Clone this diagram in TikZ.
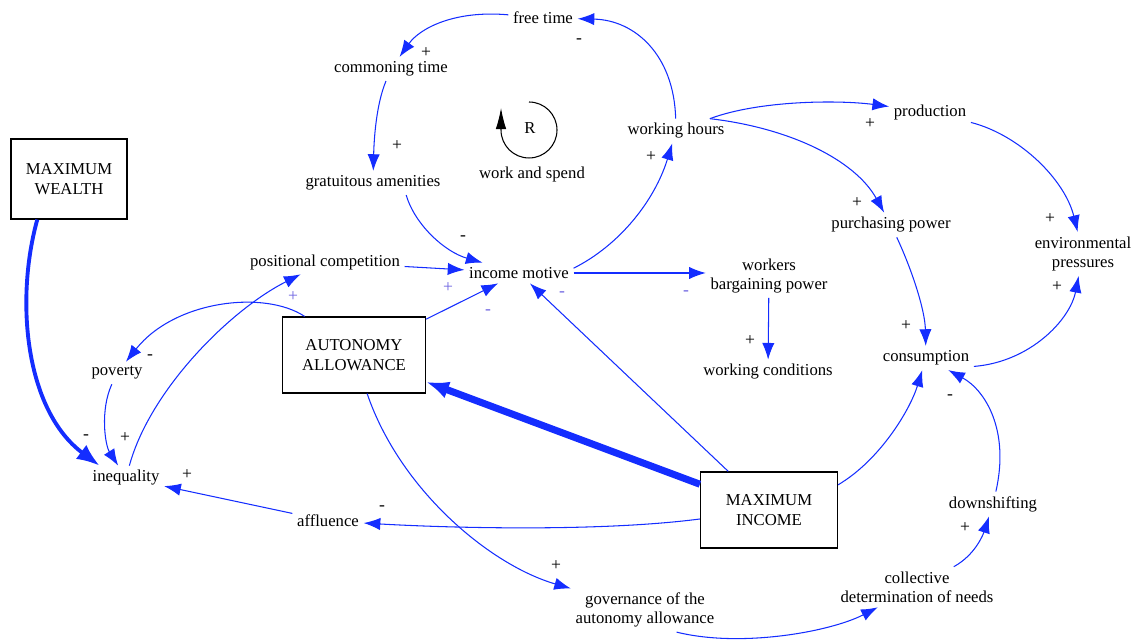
\documentclass[tikz,border=0pt]{standalone}
\usepackage{fontspec}
\setmainfont{Liberation Serif}
\usetikzlibrary{arrows.meta}
\definecolor{linkblue}{RGB}{20,45,255}
\definecolor{signpurple}{RGB}{110,100,225}
\tikzset{
  var/.style={font=\fontsize{9.5}{11}\selectfont, inner sep=2.5pt, align=center},
  lever/.style={var, draw, line width=0.7pt},
  link/.style={linkblue, line width=0.6pt, -{Latex[length=9.5pt,width=7pt]}},
  biglink/.style={linkblue, -{Latex[length=13pt,width=10pt]}},
  sgn/.style={font=\fontsize{10}{11}\selectfont, inner sep=0pt},
  sgnp/.style={sgn, signpurple},
}
\begin{document}
\begin{tikzpicture}[x=0.02cm, y=-0.02cm]
\useasboundingbox (0,0) rectangle (1137,641);

\node[var] (ft) at (543,18) {free time};
\node[var] (ct) at (391,69) {commoning time};
\node[var] (ga) at (373,183) {gratuitous amenities};
\node[var] (wh) at (676,131) {working hours};
\node[var] (prod) at (930,112) {production};
\node[var] (pp) at (891,225) {purchasing power};
\node[var] (env) at (1083,254) {environmental\\pressures};
\node[var] (pc) at (325,262) {positional competition};
\node[var] (im) at (519,273) {income motive};
\node[var] (wbp) at (769,276) {workers\\bargaining power};
\node[var] (pov) at (117,373) {poverty};
\node[var] (wc) at (768,372) {working conditions};
\node[var] (cons) at (926,358) {consumption};
\node[var] (ineq) at (126,478) {inequality};
\node[var] (aff) at (328,521) {affluence};
\node[var] (down) at (993,504) {downshifting};
\node[var] (cdn) at (917,587) {collective\\determination of needs};
\node[var] (gov) at (645,610) {governance of the\\autonomy allowance};
\node[lever, minimum width=2.32cm, minimum height=1.6cm] (mw) at (69,179) {MAXIMUM\\WEALTH};
\node[lever, minimum width=2.86cm, minimum height=1.52cm] (aa) at (354,355) {AUTONOMY\\ALLOWANCE};
\node[lever, minimum width=2.74cm, minimum height=1.52cm] (mi) at (769,510) {MAXIMUM\\INCOME};

\draw[line width=0.6pt, -{Latex[length=12pt,width=6pt]}] (529,102) arc[start angle=90, end angle=-180, radius=0.56cm] -- ++(0,-22);
\node[var] (r) at (530,128) {R};
\node[var] (ws) at (532,174) {work and spend};

\draw[link] (wh) .. controls (674,55) and (635,20) .. (ft);
\draw[link] (ft) .. controls (455,10) and (420,28) .. (ct);
\draw[link] (ct) .. controls (376,105) and (374,140) .. (ga);
\draw[link] (ga.-20) .. controls (415,225) and (445,252) .. (im);
\draw[link] (im.5) .. controls (620,245) and (655,200) .. (wh);
\draw[link] (wh.20) .. controls (760,100) and (840,100) .. (prod);
\draw[link] (wh.20) .. controls (790,128) and (855,160) .. (pp);
\draw[link] (prod) .. controls (1020,135) and (1065,180) .. (env);
\draw[link] (pp) .. controls (912,270) and (925,310) .. (cons);
\draw[link] (cons.-10) .. controls (1030,362) and (1070,320) .. (env);
\draw[link] (pc) -- (im);
\draw[link] (aa) -- (im);
\draw[link] (mi) -- (im);
\draw[link] (im) -- (im -| wbp.west);
\draw[link] (wbp) -- (wc);
\draw[link] (aa.142) .. controls (265,290) and (175,300) .. (pov);
\draw[link] (ineq) .. controls (150,390) and (230,310) .. (pc);
\draw[link] (pov) .. controls (100,410) and (105,445) .. (ineq);
\draw[biglink, line width=2.2pt] (mw.-128) .. controls (15,300) and (25,410) .. (ineq.155);
\draw[link] (aff) -- (ineq);
\draw[link] (mi) .. controls (600,532) and (450,528) .. (aff);
\draw[biglink, line width=4pt] (mi) -- (aa);
\draw[link] (mi.20) .. controls (880,460) and (910,410) .. (cons);
\draw[link] (down) .. controls (1010,430) and (985,390) .. (cons);
\draw[link] (cdn) .. controls (975,555) and (983,535) .. (down);
\draw[link] (gov.-35) .. controls (740,648) and (830,632) .. (cdn);
\draw[link] (aa) .. controls (400,490) and (490,565) .. (gov);

\node[sgn] (s1) at (579,41) {-};
\node[sgn] (s2) at (426,53) {+};
\node[sgn] (s3) at (397,146) {+};
\node[sgn] (s4) at (463,238) {-};
\node[sgn] (s5) at (651,157) {+};
\node[sgn] (s6) at (870,124) {+};
\node[sgn] (s7) at (857,203) {+};
\node[sgn] (s8) at (1050,219) {+};
\node[sgn] (s9) at (906,326) {+};
\node[sgn] (s10) at (1057,287) {+};
\node[sgnp] (s11) at (686,293) {-};
\node[sgn] (s12) at (750,341) {+};
\node[sgnp] (s13) at (448,288) {+};
\node[sgnp] (s14) at (488,312) {-};
\node[sgnp] (s15) at (562,294) {-};
\node[sgnp] (s16) at (293,297) {+};
\node[sgn] (s17) at (150,357) {-};
\node[sgn] (s18) at (125,438) {+};
\node[sgn] (s19) at (86,437) {-};
\node[sgn] (s20) at (187,475) {+};
\node[sgn] (s21) at (382,508) {-};
\node[sgn] (s22) at (950,397) {-};
\node[sgn] (s23) at (965,528) {+};
\node[sgn] (s24) at (556,566) {+};
\end{tikzpicture}
\end{document}
